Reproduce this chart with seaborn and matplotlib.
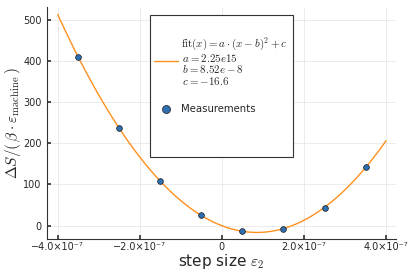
import numpy as np
import pandas as pd
import matplotlib
matplotlib.use("Agg")
import matplotlib.pyplot as plt
from matplotlib.patches import Rectangle
from matplotlib.ticker import FuncFormatter
import seaborn as sns

# ── data ─────────────────────────────────────────────────────────────────────
step_sizes = [-3.5e-7, -2.5e-7, -1.5e-7, -0.5e-7, 0.5e-7, 1.5e-7, 2.5e-7, 3.5e-7]
delta_s    = [410, 236, 108, 26, -14, -8, 44, 142]

# fit parameters as printed in the legend
FIT_A = 2.25e15
FIT_B = 8.52e-8
FIT_C = -16.6
FIT_RANGE = (-4e-7, 4e-7)

x_ticks = [-4e-7, -2e-7, 0, 2e-7, 4e-7]
y_ticks = [0, 100, 200, 300, 400, 500]

BLUE   = "#2f6fb1"
ORANGE = "#ff8f1f"

# ── style ────────────────────────────────────────────────────────────────────
sns.set_theme(style="whitegrid")
plt.rcParams["font.family"] = ["DejaVu Sans"]
plt.rcParams["mathtext.fontset"] = "cm"

meas = pd.DataFrame({"x": step_sizes, "y": delta_s})
xf = np.linspace(*FIT_RANGE, 300)
fit = pd.DataFrame({"x": xf, "y": FIT_A * (xf - FIT_B) ** 2 + FIT_C})

fig = plt.figure(figsize=(4.15, 2.77), dpi=100)
ax = fig.add_axes([47 / 415, 1 - 239 / 277, 349 / 415, 232 / 277])

fit_label = ("$\\mathrm{fit}(x) = a \\cdot (x - b)^2 + c$\n"
             "$\\,a = 2.25e15$\n$\\,b = 8.52e-8$\n$\\,c = -16.6$")
sns.lineplot(data=fit, x="x", y="y", ax=ax, color=ORANGE, lw=1.0, label=fit_label)
sns.scatterplot(data=meas, x="x", y="y", ax=ax, color=BLUE, s=17,
                edgecolor="#1a1a1a", linewidth=0.5, label="Measurements", zorder=3)

ax.set_xlim(-4.26e-7, 4.24e-7)
ax.set_ylim(-32.5, 531)
ax.set_xticks(x_ticks)
ax.set_yticks(y_ticks)


def sci_fmt(v, pos):
    if v == 0:
        return "0"
    m = v / 1e-7
    s = f"{abs(m):.1f}×10⁻⁷"
    return ("−" if m < 0 else "") + s


ax.xaxis.set_major_formatter(FuncFormatter(sci_fmt))
ax.tick_params(axis="both", labelsize=7, direction="in", length=3,
               color="#333333", pad=2, bottom=True, left=True)
ax.tick_params(axis="y", pad=4)
ax.grid(True, color="#e8e8e8", lw=0.6)
for side in ("top", "right"):
    ax.spines[side].set_visible(False)
for side in ("left", "bottom"):
    ax.spines[side].set_color("#333333")
    ax.spines[side].set_linewidth(0.8)

ax.set_xlabel("step size $\\varepsilon_2$", fontsize=11, labelpad=0)
ax.set_ylabel("$\\Delta S/(\\,\\beta \\cdot \\varepsilon_\\mathrm{machine}\\,)$",
              fontsize=11, labelpad=0)

# legend box drawn separately (Plots.jl style: tall frame, entries near top)
box = Rectangle((150 / 415, 1 - 157 / 277), 143 / 415, 142 / 277,
                transform=fig.transFigure, facecolor="white",
                edgecolor="#333333", lw=0.8, zorder=4, clip_on=False)
ax.add_patch(box)
leg = ax.legend(loc="upper left", bbox_to_anchor=(149 / 415, 1 - 30 / 277),
                bbox_transform=fig.transFigure, fontsize=7.3, frameon=False,
                borderpad=0, labelspacing=1.7, handlelength=2.4,
                handletextpad=0.3, markerscale=1.4)
leg.set_zorder(5)
txt_fit, txt_meas = leg.get_texts()
txt_fit.set_fontsize(7.9)
txt_fit.set_linespacing(0.95)

fig.savefig("out.png", dpi=100)
